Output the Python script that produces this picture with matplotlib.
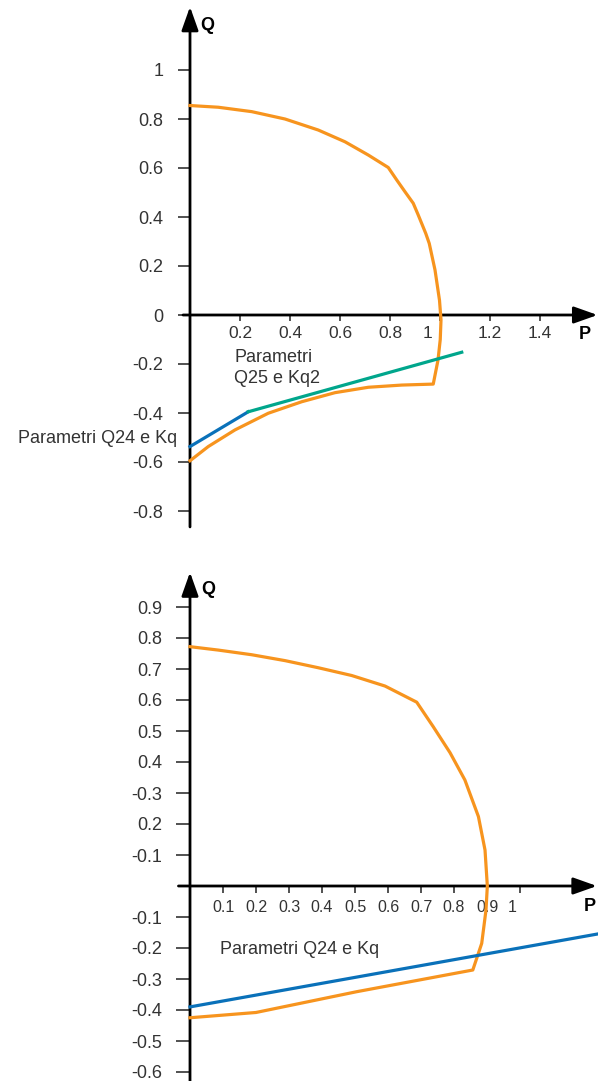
import matplotlib
matplotlib.use("Agg")
import matplotlib.pyplot as plt
from matplotlib.transforms import ScaledTranslation

plt.rcParams["font.family"] = ["Liberation Sans", "DejaVu Sans"]

ORANGE = "#F7941E"
BLUE = "#0A71B9"
GREEN = "#00A68C"
TEXT = "#333333"

# ---------------- upper diagram: capability curve, radius 1 ----------------
cap1_p = [0.0, 0.113, 0.247, 0.38, 0.513, 0.62, 0.713, 0.793,
          0.827, 0.86, 0.893, 0.913, 0.943, 0.957, 0.98, 0.998, 1.004, 1.001, 0.992, 0.973,
          0.847, 0.713, 0.58, 0.447, 0.313, 0.18, 0.073, 0.0]
cap1_q = [0.855, 0.848, 0.830, 0.800, 0.755, 0.707, 0.653, 0.602,
          0.551, 0.503, 0.456, 0.408, 0.333, 0.292, 0.184, 0.06, -0.02, -0.10, -0.184, -0.282,
          -0.286, -0.295, -0.317, -0.354, -0.401, -0.469, -0.537, -0.595]
q24_p = [0.0, 0.233]
q24_q = [-0.537, -0.395]
q25_p = [0.233, 1.087]
q25_q = [-0.395, -0.152]

yt1_vals = [1.0, 0.8, 0.6, 0.4, 0.2, 0.0, -0.2, -0.4, -0.6, -0.8]
yt1_lbls = ["1", "0.8", "0.6", "0.4", "0.2", "0", "-0.2", "-0.4", "-0.6", "-0.8"]
xt1_vals = [0.2, 0.4, 0.6, 0.8, 1.0, 1.2, 1.4]
xt1_lbls = ["0.2", "0.4", "0.6", "0.8", "1", "1.2", "1.4"]

# ---------------- lower diagram: capability curve, radius 0.9 ----------------
cap2_p = [0.0, 0.086, 0.187, 0.288, 0.389, 0.49, 0.591, 0.687,
          0.737, 0.788, 0.833, 0.874, 0.894, 0.901, 0.897, 0.884, 0.857,
          0.505, 0.2, 0.0]
cap2_q = [0.772, 0.761, 0.746, 0.727, 0.704, 0.679, 0.645, 0.593,
          0.514, 0.430, 0.342, 0.224, 0.116, 0.0, -0.077, -0.185, -0.271,
          -0.341, -0.408, -0.425]
q24b_p = [0.0, 1.25]
q24b_q = [-0.39, -0.152]

yt2_vals = [0.9, 0.8, 0.7, 0.6, 0.5, 0.4, 0.3, 0.2, 0.1, -0.1, -0.2, -0.3, -0.4, -0.5, -0.6]
yt2_lbls = ["0.9", "0.8", "0.7", "0.6", "0.5", "0.4", "-0.3", "0.2", "-0.1",
            "-0.1", "-0.2", "-0.3", "-0.4", "-0.5", "-0.6"]
xt2_vals = [0.1, 0.2, 0.3, 0.4, 0.5, 0.6, 0.7, 0.8, 0.9, 1.0]
xt2_lbls = ["0.1", "0.2", "0.3", "0.4", "0.5", "0.6", "0.7", "0.8", "0.9", "1"]

W, H = 598, 1081
fig = plt.figure(figsize=(W / 100, H / 100), dpi=100)


def make_axes(top_px, bot_px, x0_px, y0_px, sx, sy):
    """Axes spanning the full width between two pixel rows, origin at (x0_px, y0_px)."""
    ax = fig.add_axes([0, 1 - bot_px / H, 1, (bot_px - top_px) / H])
    ax.set_xlim(-x0_px / sx, (W - x0_px) / sx)
    ax.set_ylim((y0_px - bot_px) / sy, (y0_px - top_px) / sy)
    for s in ("top", "right"):
        ax.spines[s].set_visible(False)
    for s in ("left", "bottom"):
        ax.spines[s].set_position(("data", 0))
        ax.spines[s].set_linewidth(0)
    ax.patch.set_alpha(0)
    return ax


def draw_frame(ax, y_lo, y_tip, x_lo, x_tip):
    arrow = dict(arrowstyle="-|>,head_length=0.9,head_width=0.32", lw=2.0, color="black",
                 shrinkA=0, shrinkB=0, mutation_scale=16)
    ax.annotate("", xy=(0, y_tip), xytext=(0, y_lo), arrowprops=arrow, annotation_clip=False)
    ax.annotate("", xy=(x_tip, 0), xytext=(x_lo, 0), arrowprops=arrow, annotation_clip=False)


# upper
ax1 = make_axes(0, 540, 190, 315, 250, 245)
draw_frame(ax1, -0.865, 1.258, -0.028, 1.630)
ax1.plot(cap1_p, cap1_q, color=ORANGE, lw=2.3, solid_joinstyle="round", zorder=3)
ax1.plot(q24_p, q24_q, color=BLUE, lw=2.3, zorder=4)
ax1.plot(q25_p, q25_q, color=GREEN, lw=2.3, zorder=4)
ax1.set_yticks(yt1_vals, yt1_lbls)
ax1.set_xticks(xt1_vals, xt1_lbls)
ax1.tick_params(axis="y", direction="out", length=9, width=1.2, color="#333333",
                pad=10, labelsize=13, labelcolor=TEXT)
ax1.tick_params(axis="x", direction="out", length=4, width=1.2, color="#333333",
                pad=4, labelsize=12.5, labelcolor=TEXT)
lab = ax1.get_xticklabels()[4]
lab.set_transform(lab.get_transform() + ScaledTranslation(-13 / 100, 0, fig.dpi_scale_trans))
ax1.text(0.07, 1.18, "Q", fontsize=13, fontweight="bold", ha="center", va="center", color="black")
ax1.text(1.58, -0.08, "P", fontsize=13, fontweight="bold", ha="center", va="center", color="black")
ax1.text(0.176, -0.218, "Parametri\nQ25 e Kq2", fontsize=13, color=TEXT, ha="left", va="center",
         linespacing=1.3)
ax1.text(-0.05, -0.505, "Parametri Q24 e Kq", fontsize=13, color=TEXT, ha="right", va="center")

# lower
ax2 = make_axes(550, 1081, 190, 886, 330, 310)
draw_frame(ax2, -0.64, 1.012, -0.035, 1.233)
ax2.plot(cap2_p, cap2_q, color=ORANGE, lw=2.3, solid_joinstyle="round", zorder=3)
ax2.plot(q24b_p, q24b_q, color=BLUE, lw=2.3, zorder=4)
ax2.set_yticks(yt2_vals, yt2_lbls)
ax2.set_xticks(xt2_vals, xt2_lbls)
ax2.tick_params(axis="y", direction="out", length=10, width=1.2, color="#333333",
                pad=10, labelsize=13, labelcolor=TEXT)
ax2.tick_params(axis="x", direction="out", length=5, width=1.2, color="#333333",
                pad=5, labelsize=11.5, labelcolor=TEXT)
lab = ax2.get_xticklabels()[9]
lab.set_transform(lab.get_transform() + ScaledTranslation(-8 / 100, 0, fig.dpi_scale_trans))
ax2.text(0.055, 0.955, "Q", fontsize=13, fontweight="bold", ha="center", va="center", color="black")
ax2.text(1.213, -0.065, "P", fontsize=13, fontweight="bold", ha="center", va="center", color="black")
ax2.text(0.09, -0.205, "Parametri Q24 e Kq", fontsize=13, color=TEXT, ha="left", va="center")

fig.savefig("out.png", dpi=100)
